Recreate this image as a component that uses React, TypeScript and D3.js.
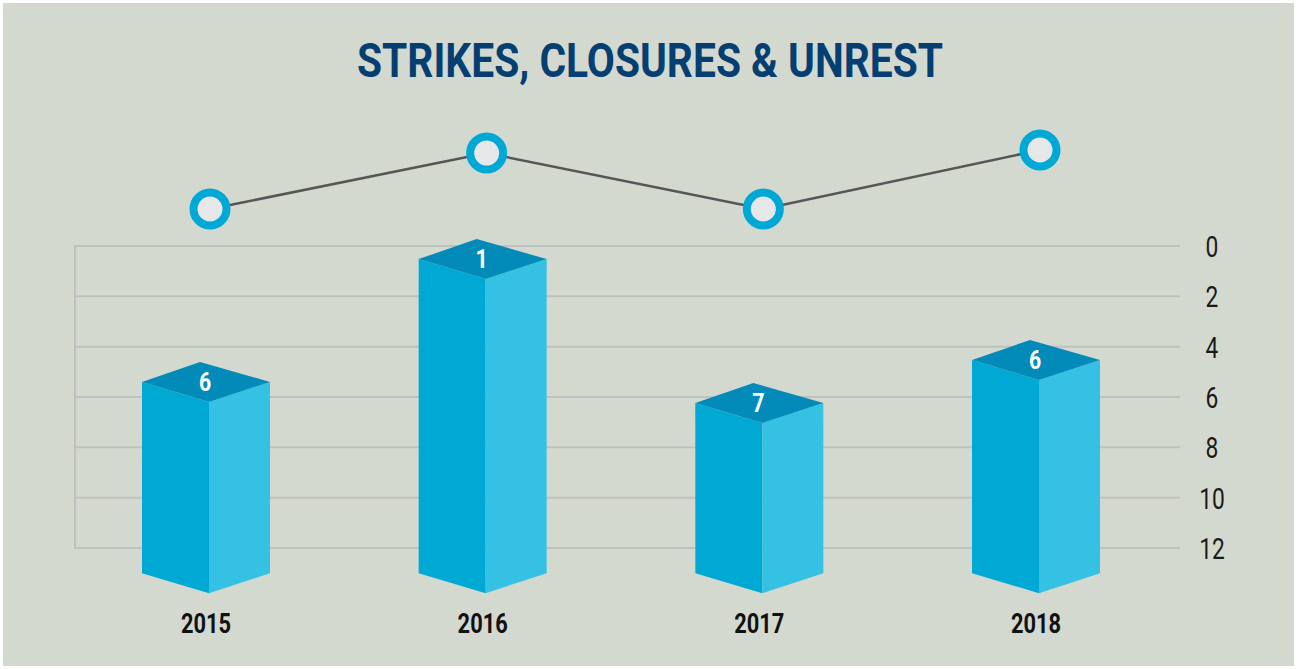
import React, { useEffect, useRef } from 'react'
import * as d3 from 'd3'

const years = ['2015', '2016', '2017', '2018']
const barLabels = [6, 1, 7, 6]
// bar top position read on the (inverted) axis
const barTops = [5.4, 0.52, 6.24, 4.53]
const barBase = 13
const lineValues = [1, 3.15, 1, 3.27]
const axisTicks = [0, 2, 4, 6, 8, 10, 12]

const FONT = "Roboto, 'DejaVu Sans Condensed', sans-serif"

// condensed-looking text: squeeze glyphs horizontally
const condText = (
  parent: d3.Selection<any, unknown, null, undefined>,
  x: number, y: number, str: string | number,
  size: number, weight: string, sx: number, fill: string
) => parent.append('text')
  .attr('transform', `translate(${x},${y}) scale(${sx},1)`)
  .attr('text-anchor', 'middle')
  .attr('font-family', FONT)
  .attr('font-size', `${size}px`)
  .attr('font-weight', weight)
  .attr('fill', fill)
  .text(str)

export default function App() {
  const svgRef = useRef<SVGSVGElement>(null)

  useEffect(() => {
    if (!svgRef.current) return
    const width = 1297
    const height = 669

    const svg = d3.select(svgRef.current)
    svg.selectAll('*').remove()

    svg.append('rect')
      .attr('x', 0).attr('y', 0)
      .attr('width', width).attr('height', height)
      .attr('fill', '#ffffff')
    svg.append('rect')
      .attr('x', 3).attr('y', 3)
      .attr('width', width - 6).attr('height', height - 6)
      .attr('fill', '#d3d9ce')

    const x = d3.scalePoint<string>().domain(years).range([210, 1040])
    const y = d3.scaleLinear().domain([0, 12]).range([246, 548])
    const yLine = d3.scaleLinear().domain([0, 4]).range([235, 131])

    // Title
    svg.append('text')
      .attr('x', 357)
      .attr('y', 77)
      .attr('textLength', 586)
      .attr('lengthAdjust', 'spacingAndGlyphs')
      .attr('font-family', FONT)
      .attr('font-size', '49px')
      .attr('font-weight', 'bold')
      .attr('fill', '#053f72')
      .text('STRIKES, CLOSURES & UNREST')

    // Grid
    const grid = svg.append('g')
    axisTicks.forEach(t => {
      grid.append('line')
        .attr('x1', 75).attr('x2', 1180)
        .attr('y1', y(t)).attr('y2', y(t))
        .attr('stroke', '#bfc0c1')
        .attr('stroke-width', 2)
      condText(grid, 1212, y(t) + 11, t, 30, 'normal', 0.76, '#1a1a1a')
    })
    grid.append('line')
      .attr('x1', 75).attr('x2', 75)
      .attr('y1', y(0) - 1).attr('y2', y(12) + 1)
      .attr('stroke', '#bfc0c1')
      .attr('stroke-width', 2)

    // 3D bars
    const leftW = 67
    const rightW = 61
    const depth = 20
    const backShift = -9
    years.forEach((yr, i) => {
      const cx = x(yr)! - 1
      const top = y(barTops[i])
      const bottom = y(barBase)
      const g = svg.append('g')
      // left face
      g.append('path')
        .attr('d', `M${cx - leftW},${top} L${cx},${top + depth} L${cx},${bottom + depth} L${cx - leftW},${bottom} Z`)
        .attr('fill', '#00a9d4')
      // right face
      g.append('path')
        .attr('d', `M${cx},${top + depth} L${cx + rightW},${top} L${cx + rightW},${bottom} L${cx},${bottom + depth} Z`)
        .attr('fill', '#34c1e4')
      // top face
      g.append('path')
        .attr('d', `M${cx - leftW},${top} L${cx + backShift},${top - depth} L${cx + rightW},${top} L${cx},${top + depth} Z`)
        .attr('fill', '#028ab9')
      condText(g, cx - 4, top + 9, barLabels[i], 26, 'bold', 0.82, '#ffffff')

      condText(svg, cx - 3, 633, yr, 28, 'bold', 0.78, '#111111')
    })

    // Line with markers
    const line = d3.line<number>()
      .x((_, i) => x(years[i])!)
      .y(d => yLine(d))
    svg.append('path')
      .attr('d', line(lineValues) as string)
      .attr('fill', 'none')
      .attr('stroke', '#555657')
      .attr('stroke-width', 2.5)

    lineValues.forEach((v, i) => {
      svg.append('circle')
        .attr('cx', x(years[i])!)
        .attr('cy', yLine(v))
        .attr('r', 16.5)
        .attr('fill', '#e6e7e8')
        .attr('stroke', '#00a8d5')
        .attr('stroke-width', 8)
    })
  }, [])

  return (
    <svg
      ref={svgRef}
      width={1297}
      height={669}
      style={{ position: 'absolute', left: 0, top: 0, display: 'block' }}
    />
  )
}
